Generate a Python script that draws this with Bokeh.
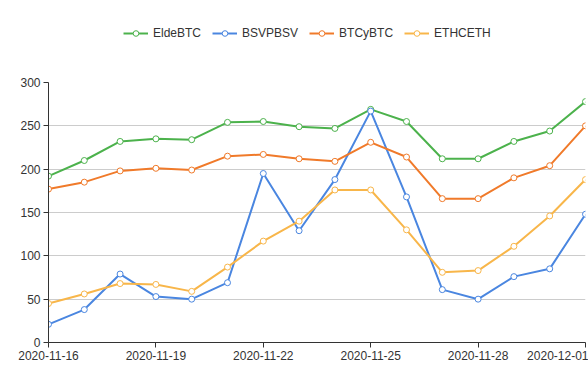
from datetime import datetime, timedelta
from bokeh.plotting import figure
from bokeh.layouts import column
from bokeh.models import Legend, LegendItem, FixedTicker, DatetimeTickFormatter, Range1d
from bokeh.embed import file_html
from bokeh.resources import INLINE

start = datetime(2020, 11, 16)
dates = [start + timedelta(days=i) for i in range(16)]

series_names = ["EldeBTC", "BSVPBSV", "BTCyBTC", "ETHCETH"]
elde = [192, 210, 232, 235, 234, 254, 255, 249, 247, 269, 255, 212, 212, 232, 244, 278]
bsv = [21, 38, 79, 53, 50, 69, 195, 129, 188, 267, 168, 61, 50, 76, 85, 148]
btcy = [177, 185, 198, 201, 199, 215, 217, 212, 209, 231, 214, 166, 166, 190, 204, 250]
ethc = [45, 56, 68, 67, 59, 87, 117, 140, 176, 176, 130, 81, 83, 111, 146, 188]
series_values = [elde, bsv, btcy, ethc]
colors = ["#4cb24c", "#4a86e0", "#f07a2a", "#f8b64a"]
y_ticks = [0, 50, 100, 150, 200, 250, 300]

FONT = "Liberation Sans"

# legend strip on top (its renderers lie outside its visible ranges)
pl = figure(width=588, height=62, output_backend="svg", toolbar_location=None,
            min_border=0, x_range=Range1d(-2, -1), y_range=Range1d(-2, -1))
pl.axis.visible = False
pl.grid.visible = False
pl.outline_line_color = None

# main chart
p = figure(width=588, height=310, x_axis_type="datetime",
           output_backend="svg", toolbar_location=None,
           min_border_left=48, min_border_right=3, min_border_top=20, min_border_bottom=30)
p.x_range = Range1d(dates[0], dates[-1])
p.y_range = Range1d(0, 300)
p.outline_line_color = None
p.background_fill_color = "white"
p.border_fill_color = "white"

items = []
for name, vals, c in zip(series_names, series_values, colors):
    p.line(dates, vals, line_color=c, line_width=2)
    p.scatter(dates, vals, size=6, marker="circle", fill_color="white",
              line_color=c, line_width=1)
    ll = pl.line(dates, vals, line_color=c, line_width=2)
    ls = pl.scatter(dates, vals, size=9, marker="circle", fill_color="white",
                    line_color=c, line_width=1)
    items.append(LegendItem(label=name, renderers=[ll, ls]))

legend = Legend(items=items, orientation="horizontal", location=(75, 22),
                label_text_font=FONT, label_text_font_size="12px",
                label_text_color="#333333", glyph_width=25, glyph_height=14,
                label_height=14, label_standoff=5, spacing=11, padding=4, margin=0,
                border_line_color=None, background_fill_alpha=0)
pl.add_layout(legend, "center")

p.xaxis.ticker = FixedTicker(ticks=[d.timestamp() * 1000 for d in dates[::3]])
p.xaxis.formatter = DatetimeTickFormatter(days="%Y-%m-%d", months="%Y-%m-%d")
p.yaxis.ticker = FixedTicker(ticks=y_ticks)

for ax in (p.xaxis, p.yaxis):
    ax.axis_line_color = "#333333"
    ax.major_tick_line_color = "#333333"
    ax.minor_tick_line_color = None
    ax.major_tick_out = 5
    ax.major_tick_in = 0
    ax.major_label_text_font = FONT
    ax.major_label_text_font_size = "12px"
    ax.major_label_text_color = "#333333"
    ax.major_label_standoff = 3

p.xgrid.grid_line_color = None
p.ygrid.grid_line_color = "#cccccc"
p.ygrid.ticker = FixedTicker(ticks=y_ticks)

layout = column(pl, p, spacing=0)
open("out.html", "w").write(file_html(layout, INLINE))
